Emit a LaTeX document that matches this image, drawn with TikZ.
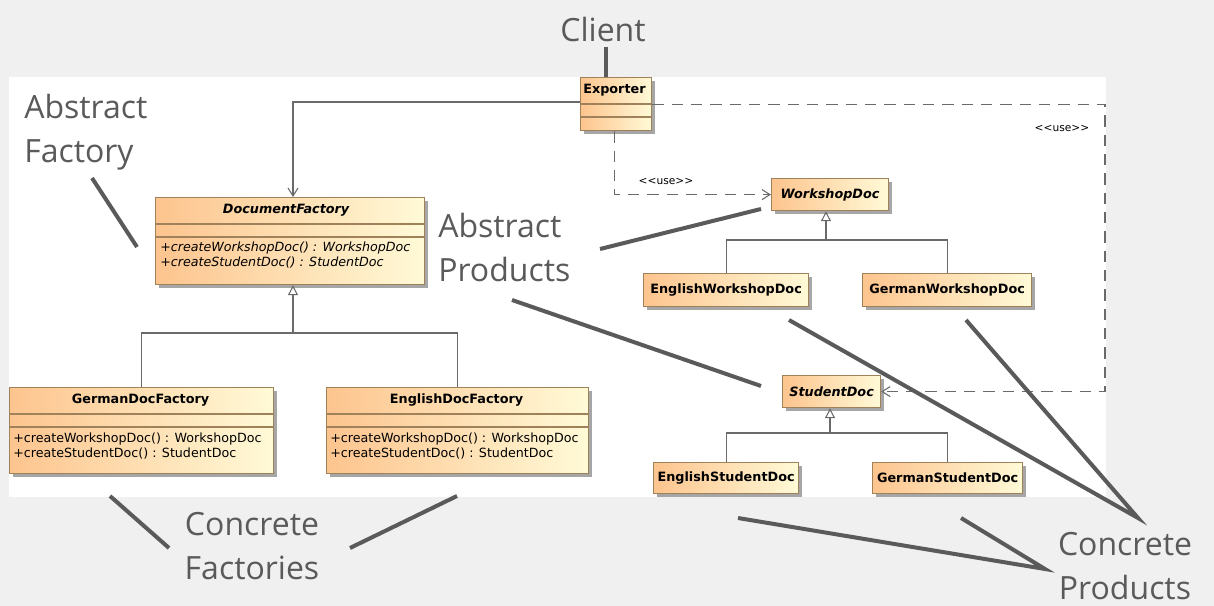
\documentclass[tikz,border=0pt]{standalone}
\usepackage{fontspec}
\setmainfont{DejaVu Sans}
\newfontfamily\notefont{Open Sans}
\usetikzlibrary{arrows.meta,calc,shadows}

\definecolor{bggray}{HTML}{F0F0F0}
\definecolor{notegray}{HTML}{5A5A5A}
\definecolor{edgegray}{HTML}{6A6A6A}
\definecolor{boxedge}{RGB}{160,130,90}
\definecolor{boxleft}{RGB}{253,196,142}
\definecolor{boxright}{RGB}{255,250,215}

\begin{document}
\begin{tikzpicture}[x=0.75pt,y=-0.75pt,
  umlbox/.style={draw=boxedge, line width=0.9pt, left color=boxleft, right color=boxright,
    anchor=north west, inner sep=0pt,
    drop shadow={shadow xshift=2.2pt, shadow yshift=-2.2pt, fill=black, opacity=0.35}},
  boxsize/.style 2 args={minimum width={#1*0.75pt}, minimum height={#2*0.75pt}},
  ctitle/.style={font=\fontsize{9.6}{11}\selectfont\bfseries, inner sep=0pt},
  cabstract/.style={font=\fontsize{9.6}{11}\selectfont\bfseries\itshape, inner sep=0pt},
  members/.style={font=\fontsize{9.5}{11.25}\selectfont, align=left, anchor=west, inner sep=0pt},
  absmembers/.style={members, font=\fontsize{9.5}{11.25}\selectfont\itshape},
  sepline/.style={draw=boxedge, line width=0.9pt},
  edgeline/.style={draw=edgegray, line width=0.8pt},
  assoc/.style={edgeline, -{Straight Barb[length=6pt,width=7.5pt]}},
  usedep/.style={edgeline, dash pattern=on 8.5pt off 6pt, -{Straight Barb[length=6pt,width=7.5pt]}},
  gen/.style={edgeline, -{Triangle[open,length=7.5pt,width=7.5pt,fill=white]}},
  stereo/.style={font=\fontsize{8}{9}\selectfont, inner sep=0pt},
  note/.style={font=\notefont\fontsize{24}{33}\selectfont, text=notegray, inner sep=0pt},
  pointer/.style={draw=notegray, line width=3pt}]

% canvas and diagram area
\fill[bggray] (0,0) rectangle (1214,606);
\useasboundingbox (0,0) rectangle (1214,606);
\fill[white] (9,77) rectangle (1106,497);

% class boxes
\node[umlbox, boxsize={71}{53}] (exp) at (580,77) {};
\node[umlbox, boxsize={269}{87}] (df) at (155,197) {};
\node[umlbox, boxsize={264}{86}] (gdf) at (9,387) {};
\node[umlbox, boxsize={262}{86}] (edf) at (326,387) {};
\node[umlbox, boxsize={117}{32}, cabstract] (wd) at (771,178) {WorkshopDoc};
\node[umlbox, boxsize={165}{33}, ctitle] (ewd) at (643,273) {EnglishWorkshopDoc};
\node[umlbox, boxsize={169}{33}, ctitle] (gwd) at (862,273) {GermanWorkshopDoc};
\node[umlbox, boxsize={98}{32}, cabstract] (sd) at (782,375) {StudentDoc};
\node[umlbox, boxsize={145}{31}, ctitle] (esd) at (653,462) {EnglishStudentDoc};
\node[umlbox, boxsize={150}{31}, ctitle] (gsd) at (872,462) {GermanStudentDoc};

% compartment separators
\foreach \b in {exp,df,gdf,edf}{
  \draw[sepline] ($(\b.north west)+(0,27)$) -- ($(\b.north east)+(0,27)$);
  \draw[sepline] ($(\b.north west)+(0,40)$) -- ($(\b.north east)+(0,40)$);
}

% class names
\node[ctitle, anchor=west] (exp-name) at ($(exp.north west)+(3,13)$) {Exporter};
\node[cabstract] (df-name) at ($(df.north)+(-4,13)$) {DocumentFactory};
\node[ctitle] (gdf-name) at ($(gdf.north)+(-1,13)$) {GermanDocFactory};
\node[ctitle] (edf-name) at ($(edf.north)+(-1,13)$) {EnglishDocFactory};

% operations
\node[absmembers] (df-ops) at ($(df.north west)+(5,58)$)
  {+createWorkshopDoc() : WorkshopDoc\\+createStudentDoc() : StudentDoc};
\node[members] (gdf-ops) at ($(gdf.north west)+(4,59)$)
  {+createWorkshopDoc() : WorkshopDoc\\+createStudentDoc() : StudentDoc};
\node[members] (edf-ops) at ($(edf.north west)+(4,59)$)
  {+createWorkshopDoc() : WorkshopDoc\\+createStudentDoc() : StudentDoc};

% association Exporter -> DocumentFactory
\draw[assoc] ($(exp.north west)+(0,25)$) -| ($(df.north west)+(138,0)$);

% usage dependencies
\draw[usedep] ($(exp.south)+(-2,0)$) |- (wd.west);
\node[stereo] (use-wd) at (666,181) {<\kern0pt<use>\kern0pt>};
\coordinate (usebend) at (1105,250);
\draw[usedep] (exp.east) -| (usebend) |- (sd.east);
\node[stereo] (use-sd) at (1062,128) {<\kern0pt<use>\kern0pt>};

% generalizations
\coordinate (dfjoin) at (293,333);
\draw[gen] (gdf.north) |- (dfjoin) -- (dfjoin |- df.south);
\draw[edgeline] (edf.north) |- (dfjoin);
\coordinate (wdjoin) at (826,240);
\draw[gen] (ewd.north) |- (wdjoin) -- (wdjoin |- wd.south);
\draw[edgeline] (gwd.north) |- (wdjoin);
\coordinate (sdjoin) at (830,433);
\draw[gen] (esd.north) |- (sdjoin) -- (sdjoin |- sd.south);
\draw[edgeline] (gsd.north) |- (sdjoin);

% annotations
\node[note, anchor=base] (client) at (603,42) {Client};
\coordinate (clientfoot) at ($(client.south)+(3,4)$);
\draw[pointer] (clientfoot) -- (clientfoot |- exp.north);

\node[note, align=left, anchor=north west] (afnote) at (24,94) {Abstract\\Factory};
\node[note, align=left, anchor=north west] (apnote) at (438,213) {Abstract\\Products};
\node[note, align=center, anchor=north] (cfnote) at (252,512) {Concrete\\Factories};
\node[note, align=center, anchor=north] (cpnote) at (1125,532) {Concrete\\Products};

\coordinate (af-a) at (92,178);   \coordinate (af-b) at (137,247);
\coordinate (ap-a) at (600,249);  \coordinate (ap-b) at (761,209);
\coordinate (ap-c) at (512,300);  \coordinate (ap-d) at (761,386);
\coordinate (cf-a) at (110,496);  \coordinate (cf-b) at (169,548);
\coordinate (cf-c) at (350,548);  \coordinate (cf-d) at (457,496);
\coordinate (cp-top) at (1138,518);
\coordinate (cp-low) at (1045,569);
\coordinate (cp-a) at (789,320);  \coordinate (cp-b) at (966,320);
\coordinate (cp-c) at (738,518);  \coordinate (cp-d) at (961,518);

\draw[pointer] (af-a) -- (af-b);
\draw[pointer] (ap-a) -- (ap-b);
\draw[pointer] (ap-c) -- (ap-d);
\draw[pointer] (cf-a) -- (cf-b);
\draw[pointer] (cf-c) -- (cf-d);
\draw[pointer] (cp-a) -- (cp-top) -- (cp-b);
\draw[pointer] (cp-c) -- (cp-low) -- (cp-d);
\end{tikzpicture}
\end{document}
